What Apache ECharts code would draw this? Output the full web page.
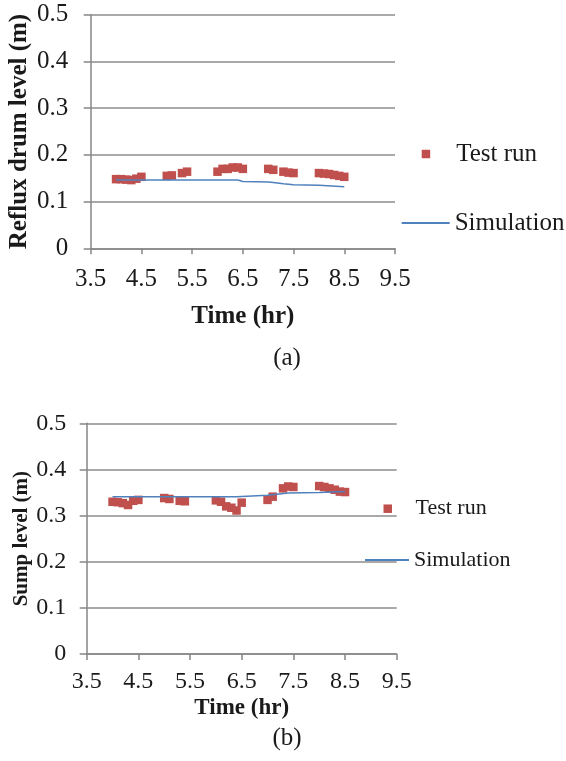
<!DOCTYPE html>
<html>
<head>
<meta charset="utf-8">
<script src="https://cdn.jsdelivr.net/npm/echarts@6/dist/echarts.min.js"></script>
<style>
html,body{margin:0;padding:0;background:#fff;}
#main{width:566px;height:761px;}
</style>
</head>
<body>
<div id="main"></div>
<script>
// ---- Data (a) Reflux drum level ----
const testTimeA = [4.0,4.1,4.2,4.3,4.4,4.5, 5.0,5.1,5.3,5.4, 6.0,6.1,6.2,6.3,6.4,6.5, 7.0,7.1,7.3,7.4,7.5, 8.0,8.1,8.2,8.3,8.4,8.5];
const testLevelA = [0.148,0.148,0.147,0.146,0.149,0.153, 0.155,0.156,0.161,0.164, 0.164,0.170,0.170,0.173,0.173,0.170, 0.170,0.168,0.164,0.162,0.161, 0.161,0.160,0.159,0.157,0.155,0.153];
const simTimeA = [4.0,6.4,6.5,7.0,7.1,7.3,7.5,8.0,8.5];
const simLevelA = [0.146,0.146,0.143,0.142,0.141,0.138,0.136,0.135,0.132];

// ---- Data (b) Sump level ----
const testTimeB = [4.0,4.1,4.2,4.3,4.4,4.5, 5.0,5.1,5.3,5.4, 6.0,6.1,6.2,6.3,6.4,6.5, 7.0,7.1,7.3,7.4,7.5, 8.0,8.1,8.2,8.3,8.4,8.5];
const testLevelB = [0.330,0.329,0.327,0.323,0.332,0.334, 0.338,0.336,0.332,0.331, 0.333,0.330,0.320,0.317,0.311,0.328, 0.334,0.341,0.359,0.363,0.362, 0.364,0.362,0.359,0.356,0.352,0.351];
const simTimeB = [4.0,6.4,7.0,7.4,8.0,8.5];
const simLevelB = [0.341,0.341,0.344,0.349,0.350,0.352];

// ---- Axis ticks ----
const xTicks = ['3.5','4.5','5.5','6.5','7.5','8.5','9.5'];
const yTicks = ['0','0.1','0.2','0.3','0.4','0.5'];

const pairs = (xs, ys) => xs.map((x, i) => [x, ys[i]]);

const FONT = "'Liberation Serif', 'Times New Roman', serif";
const TXT = '#1a1a1a';
const GRID = '#8c8c8c';
const AXIS = '#868686';
const RED = '#C0504D';
const BLUE = '#4F81BD';

function xAxisCfg(gridIndex, fs, nameFs, nameGap, labelMargin) {
  return {
    type: 'value', gridIndex, min: 3.5, max: 9.5, interval: 1,
    name: 'Time (hr)', nameLocation: 'middle', nameGap, nameMoveOverlap: false,
    nameTextStyle: {fontFamily: FONT, fontWeight: 'bold', fontSize: nameFs, color: TXT},
    axisLine: {show: true, onZero: false, lineStyle: {color: AXIS, width: 1.5}},
    axisTick: {show: true, inside: false, length: 6, lineStyle: {color: AXIS, width: 1.5}},
    axisLabel: {fontFamily: FONT, fontSize: fs, color: TXT, margin: labelMargin,
      formatter: v => xTicks[Math.round(v - 3.5)]},
    splitLine: {show: false}
  };
}
function yAxisCfg(gridIndex, name, fs, nameFs, nameGap, labelMargin) {
  return {
    type: 'value', gridIndex, min: 0, max: 0.5, interval: 0.1,
    name, nameLocation: 'middle', nameGap, nameMoveOverlap: false,
    nameTextStyle: {fontFamily: FONT, fontWeight: 'bold', fontSize: nameFs, color: TXT},
    axisLine: {show: true, lineStyle: {color: AXIS, width: 1.5}},
    axisTick: {show: true, inside: false, length: 7, lineStyle: {color: AXIS, width: 1.5}},
    axisLabel: {fontFamily: FONT, fontSize: fs, color: TXT, margin: labelMargin,
      formatter: v => yTicks[Math.round(v * 10)]},
    splitLine: {show: true, lineStyle: {color: GRID, width: 1.5}}
  };
}

const chart = echarts.init(document.getElementById('main'), null, {renderer: 'canvas'});
chart.setOption({
  animation: false,
  backgroundColor: '#fff',
  textStyle: {fontFamily: FONT, color: TXT},
  grid: [
    {left: 90.7, top: 14.7, width: 304.3, height: 233.6, containLabel: false, outerBoundsMode: 'none'},
    {left: 86.7, top: 423.3, width: 310, height: 230.7, containLabel: false, outerBoundsMode: 'none'}
  ],
  xAxis: [
    xAxisCfg(0, 25, 25, 56, 19),
    xAxisCfg(1, 24, 23, 43, 15.7)
  ],
  yAxis: [
    yAxisCfg(0, 'Reflux drum level (m)', 25, 25, 59, 22.5),
    yAxisCfg(1, 'Sump level (m)', 24, 21, 55, 20.5)
  ],
  legend: [
    {data: [{name: 'Test run', icon: 'rect'}], selectedMode: false, orient: 'vertical', padding: 0,
     left: 421.7, top: 141.5,
     itemWidth: 8.5, itemHeight: 8.5, itemStyle: {color: RED, opacity: 1},
     textStyle: {fontFamily: FONT, fontSize: 25, color: TXT, padding: [0,0,0,21]}},
    {data: [{name: 'Simulation', icon: 'rect'}], selectedMode: false, orient: 'vertical', padding: 0,
     left: 401.7, top: 210.5,
     itemWidth: 48, itemHeight: 2, itemStyle: {color: BLUE},
     textStyle: {fontFamily: FONT, fontSize: 25, color: TXT}},
    {data: [{name: 'Test run', icon: 'rect'}], selectedMode: false, orient: 'vertical', padding: 0,
     left: 383.5, top: 497.7,
     itemWidth: 8.5, itemHeight: 8.5, itemStyle: {color: RED, opacity: 1},
     textStyle: {fontFamily: FONT, fontSize: 22, color: TXT, padding: [0,0,0,18.5]}},
    {data: [{name: 'Simulation', icon: 'rect'}], selectedMode: false, orient: 'vertical', padding: 0,
     left: 365, top: 549,
     itemWidth: 44, itemHeight: 2, itemStyle: {color: BLUE},
     textStyle: {fontFamily: FONT, fontSize: 22, color: TXT}}
  ],
  graphic: [
    {type: 'text', x: 287, y: 358, style: {text: '(a)', fontFamily: FONT, fontSize: 25, fill: TXT, align: 'center', verticalAlign: 'middle'}},
    {type: 'text', x: 287, y: 738, style: {text: '(b)', fontFamily: FONT, fontSize: 25, fill: TXT, align: 'center', verticalAlign: 'middle'}}
  ],
  series: [
    {name: 'Test run', type: 'scatter', xAxisIndex: 0, yAxisIndex: 0, symbol: 'rect', symbolSize: 8.5,
     itemStyle: {color: RED, opacity: 1}, data: pairs(testTimeA, testLevelA), z: 3},
    {name: 'Simulation', type: 'line', xAxisIndex: 0, yAxisIndex: 0, showSymbol: false, symbol: 'none',
     lineStyle: {color: BLUE, width: 1.5}, itemStyle: {color: BLUE}, data: pairs(simTimeA, simLevelA), z: 4},
    {name: 'Test run', type: 'scatter', xAxisIndex: 1, yAxisIndex: 1, symbol: 'rect', symbolSize: 8.5,
     itemStyle: {color: RED, opacity: 1}, data: pairs(testTimeB, testLevelB), z: 3},
    {name: 'Simulation', type: 'line', xAxisIndex: 1, yAxisIndex: 1, showSymbol: false, symbol: 'none',
     lineStyle: {color: BLUE, width: 1.5}, itemStyle: {color: BLUE}, data: pairs(simTimeB, simLevelB), z: 4}
  ]
});
</script>
</body>
</html>
